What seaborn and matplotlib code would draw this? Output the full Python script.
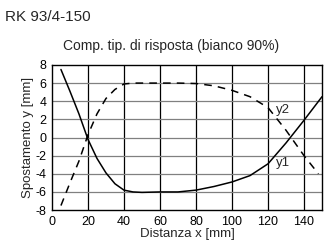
import numpy as np
import pandas as pd
import matplotlib
matplotlib.use("Agg")
import matplotlib.pyplot as plt
import seaborn as sns
from matplotlib import font_manager

# --- dati ---
distanza = [5, 10, 15, 20, 25, 30, 35, 40, 45, 50, 60, 70, 80, 90, 100, 110, 120, 130, 140, 150]
y1_vals = [7.5, 5.1, 2.6, -0.2, -2.3, -3.9, -5.1, -5.8, -6.0, -6.05, -6.0, -6.0, -5.8, -5.4, -4.9, -4.2, -2.9, -0.6, 1.9, 4.5]
x2 = [5, 10, 15, 20, 25, 30, 35, 40, 45, 50, 60, 70, 80, 90, 100, 110, 120, 130, 140, 148]
y2_vals = [-7.5, -5.0, -2.6, 0.3, 2.6, 4.3, 5.3, 5.9, 6.0, 6.0, 6.0, 6.0, 5.95, 5.7, 5.2, 4.5, 3.3, 0.8, -2.0, -4.0]
x_ticks = [0, 20, 40, 60, 80, 100, 120, 140]
y_ticks = [8, 6, 4, 2, 0, -2, -4, -6, -8]

names = {f.name for f in font_manager.fontManager.ttflist}
narrow = "Liberation Sans Narrow" if "Liberation Sans Narrow" in names else "Liberation Sans"

sns.set_style("white")
plt.rcParams['font.family'] = [narrow, 'DejaVu Sans']

fig = plt.figure(figsize=(3.33, 2.46), dpi=100)
ax = fig.add_axes([0.156, 0.146, 0.811, 0.590])

df1 = pd.DataFrame({'x': distanza, 'y': y1_vals})
df2 = pd.DataFrame({'x': x2, 'y': y2_vals})
sns.lineplot(data=df1, x='x', y='y', ax=ax, color='black', lw=1.1)
sns.lineplot(data=df2, x='x', y='y', ax=ax, color='black', lw=1.1, linestyle=(0, (5, 4)))

ax.set_xlim(0, 150)
ax.set_ylim(-8, 8)
ax.set_xticks(x_ticks)
ax.set_yticks(y_ticks)
ax.set_yticklabels([str(v) for v in y_ticks])
for v in x_ticks[1:]:
    ax.axvline(v, color='black', lw=0.9, zorder=0)
for v in y_ticks[1:-1]:
    ax.axhline(v, color='#808080', lw=0.9, zorder=0)
for s in ax.spines.values():
    s.set_color('black')
    s.set_linewidth(1.0)
ax.tick_params(direction='out', length=3, width=0.8, labelsize=9, pad=1, colors='black')
ax.set_xlabel('Distanza x [mm]', fontsize=9.5, labelpad=0)
ax.set_ylabel('Spostamento y [mm]', fontsize=9.5, labelpad=1)

ax.text(128.5, 3.0, 'y2', fontsize=9.5, ha='center', va='center')
ax.text(128.5, -2.85, 'y1', fontsize=9.5, ha='center', va='center')

fig.text(0.015, 0.93, 'RK 93/4-150', fontsize=11, family=['Liberation Sans', 'DejaVu Sans'], va='center', ha='left')
fig.text(0.515, 0.815, 'Comp. tip. di risposta (bianco 90%)', fontsize=10, ha='center', va='center')

fig.savefig('out.png', dpi=100)
